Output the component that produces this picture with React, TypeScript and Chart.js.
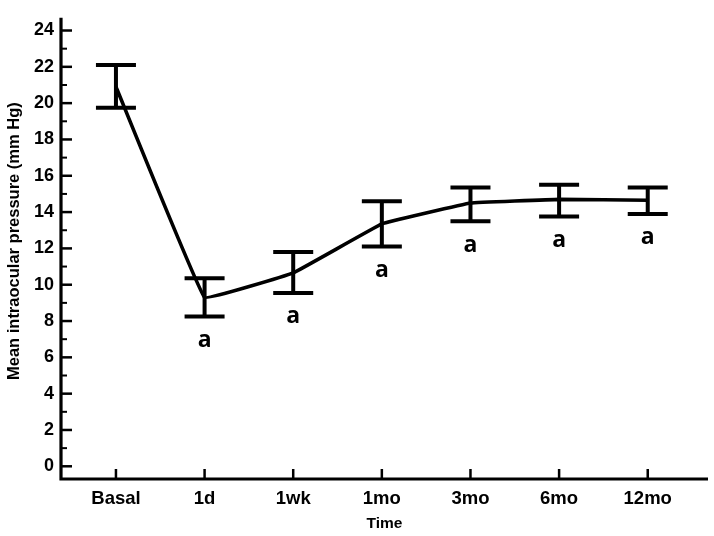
import React, { useEffect, useRef } from "react";
import { Chart, registerables } from "chart.js";

Chart.register(...registerables);

const categories = ["Basal", "1d", "1wk", "1mo", "3mo", "6mo", "12mo"];
const meanIOP = [20.9, 9.3, 10.65, 13.35, 14.5, 14.7, 14.65];
const upperIOP = [22.1, 10.35, 11.8, 14.6, 15.35, 15.5, 15.35];
const lowerIOP = [19.75, 8.25, 9.55, 12.1, 13.5, 13.75, 13.9];
const sigLabels = ["", "a", "a", "a", "a", "a", "a"];
const yTickValues = [0, 2, 4, 6, 8, 10, 12, 14, 16, 18, 20, 22, 24];
const yMinorValues = [1, 3, 5, 7, 9, 11, 13, 15, 17, 19, 21, 23];
const yTitle = "Mean intraocular pressure (mm Hg)";
const xTitle = "Time";

const FONT = "'Liberation Sans', Arial, sans-serif";

const customDraw = {
  id: "customDraw",
  afterDatasetsDraw(chart: any) {
    const { ctx, chartArea, scales } = chart;
    const xs = scales.x;
    const ys = scales.y;
    ctx.save();
    ctx.strokeStyle = "#000";
    ctx.fillStyle = "#000";
    ctx.lineCap = "butt";
    // axes
    ctx.lineWidth = 3.2;
    ctx.beginPath();
    ctx.moveTo(chartArea.left, chartArea.top);
    ctx.lineTo(chartArea.left, chartArea.bottom);
    ctx.lineTo(chartArea.right, chartArea.bottom);
    ctx.stroke();
    // y major ticks
    ctx.lineWidth = 2.5;
    yTickValues.forEach((v) => {
      const py = ys.getPixelForValue(v);
      ctx.beginPath();
      ctx.moveTo(chartArea.left, py);
      ctx.lineTo(chartArea.left + 11, py);
      ctx.stroke();
    });
    ctx.lineWidth = 2;
    yMinorValues.forEach((v) => {
      const py = ys.getPixelForValue(v);
      ctx.beginPath();
      ctx.moveTo(chartArea.left, py);
      ctx.lineTo(chartArea.left + 6, py);
      ctx.stroke();
    });
    // x ticks
    ctx.lineWidth = 2.5;
    categories.forEach((_, i) => {
      const px = xs.getPixelForValue(i);
      ctx.beginPath();
      ctx.moveTo(px, chartArea.bottom);
      ctx.lineTo(px, chartArea.bottom - 10);
      ctx.stroke();
    });
    // error bars
    ctx.lineWidth = 4;
    categories.forEach((_, i) => {
      const px = xs.getPixelForValue(i);
      const pu = ys.getPixelForValue(upperIOP[i]);
      const pl = ys.getPixelForValue(lowerIOP[i]);
      ctx.beginPath();
      ctx.moveTo(px, pu);
      ctx.lineTo(px, pl);
      ctx.moveTo(px - 20, pu);
      ctx.lineTo(px + 20, pu);
      ctx.moveTo(px - 20, pl);
      ctx.lineTo(px + 20, pl);
      ctx.stroke();
    });
    // significance labels
    ctx.font = "bold 23px 'Open Sans', sans-serif";
    ctx.textAlign = "center";
    ctx.textBaseline = "middle";
    categories.forEach((_, i) => {
      if (!sigLabels[i]) return;
      const px = xs.getPixelForValue(i);
      const pl = ys.getPixelForValue(lowerIOP[i]);
      ctx.fillText(sigLabels[i], px, pl + 24);
    });
    // y axis title
    ctx.save();
    ctx.font = "bold 16.5px " + FONT;
    ctx.translate(14, ys.getPixelForValue(12.4));
    ctx.rotate(-Math.PI / 2);
    ctx.textAlign = "center";
    ctx.textBaseline = "middle";
    ctx.fillText(yTitle, 0, 0);
    ctx.restore();
    ctx.restore();
  },
};

export default function App() {
  const ref = useRef<HTMLCanvasElement | null>(null);
  useEffect(() => {
    document.body.style.margin = "0";
    const canvas = ref.current;
    if (!canvas) return;
    const chart = new Chart(canvas, {
      type: "line",
      data: {
        datasets: [
          {
            data: meanIOP.map((v, i) => ({ x: i, y: v })),
            borderColor: "#000",
            borderWidth: 3.6,
            pointRadius: 0,
            tension: 0.05,
            fill: false,
          },
        ],
      },
      options: {
        responsive: false,
        animation: false,
        layout: { padding: { top: 5, right: 6, left: 0, bottom: 0 } },
        plugins: { legend: { display: false }, tooltip: { enabled: false } },
        scales: {
          x: {
            type: "linear",
            min: -0.62,
            max: 6.68,
            afterBuildTicks: (s: any) => {
              s.ticks = categories.map((_, i) => ({ value: i }));
            },
            afterFit: (s: any) => {
              s.height = 57;
            },
            grid: { display: false, drawTicks: false, tickLength: 0 },
            border: { display: false },
            ticks: {
              autoSkip: false,
              maxRotation: 0,
              padding: 9,
              color: "#000",
              font: { family: FONT, size: 18.5, weight: "bold" },
              callback: (v: any, idx: number) => categories[idx],
            },
            title: {
              display: true,
              text: xTitle,
              color: "#000",
              font: { family: FONT, size: 15.5, weight: "bold" },
              padding: { top: 0, bottom: 3 },
            },
          },
          y: {
            type: "linear",
            min: -0.7,
            max: 24.7,
            afterBuildTicks: (s: any) => {
              s.ticks = yTickValues.map((v) => ({ value: v }));
            },
            afterFit: (s: any) => {
              s.width = 61;
            },
            grid: { display: false, drawTicks: false, tickLength: 0 },
            border: { display: false },
            ticks: {
              padding: 7,
              color: "#000",
              font: { family: FONT, size: 18, weight: "bold" },
            },
            title: { display: false },
          },
        },
      },
      plugins: [customDraw],
    });
    return () => chart.destroy();
  }, []);
  return <canvas ref={ref} width={714} height={536} />;
}
